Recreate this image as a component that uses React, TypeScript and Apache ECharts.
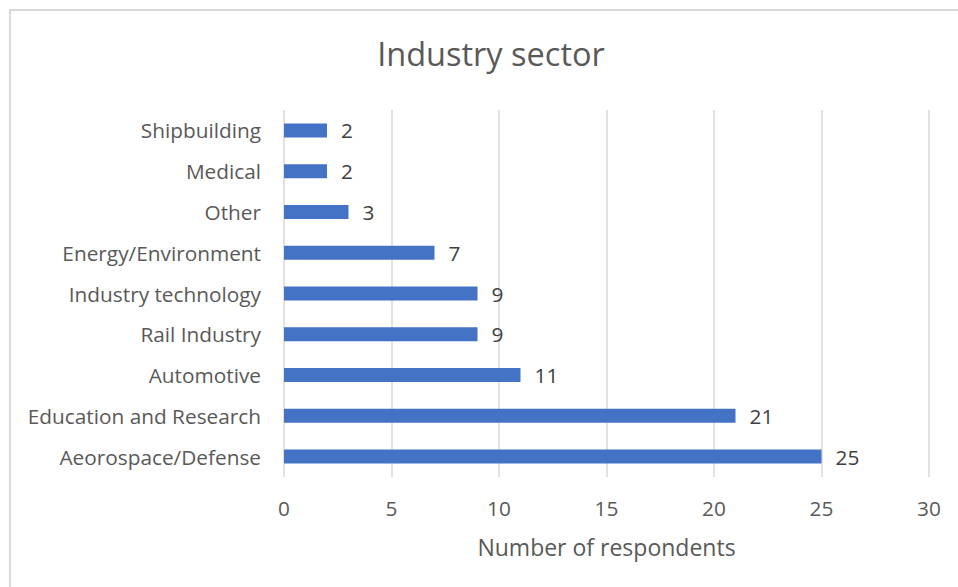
import React, { useEffect, useRef } from "react";
import * as echarts from "echarts";

const categories = [
  "Aeorospace/Defense",
  "Education and Research",
  "Automotive",
  "Rail Industry",
  "Industry technology",
  "Energy/Environment",
  "Other",
  "Medical",
  "Shipbuilding",
];
const respondents = [25, 21, 11, 9, 9, 7, 3, 2, 2];
const titleText = "Industry sector";
const xAxisName = "Number of respondents";

export default function App() {
  const ref = useRef<HTMLDivElement>(null);
  useEffect(() => {
    if (!ref.current) return;
    const chart = echarts.init(ref.current, null, { renderer: "svg" });
    const font = "'Open Sans', Lato, sans-serif";
    chart.setOption({
      animation: false,
      backgroundColor: "#ffffff",
      textStyle: { fontFamily: font },
      title: {
        text: titleText,
        left: 486,
        textAlign: "center",
        top: 32,
        textStyle: { fontFamily: font, fontSize: 32.5, fontWeight: "normal", color: "#595959" },
      },
      graphic: [
        {
          type: "rect",
          shape: { x: 10, y: 10, width: 980, height: 620 },
          style: { fill: "none", stroke: "#d9d9d9", lineWidth: 2 },
          silent: true,
        },
      ],
      grid: { left: 284, right: 29, top: 110, bottom: 110, containLabel: false },
      xAxis: {
        type: "value",
        min: 0,
        max: 30,
        interval: 5,
        name: xAxisName,
        nameLocation: "middle",
        nameGap: 58,
        nameTextStyle: { fontFamily: font, fontSize: 23, color: "#595959" },
        axisLine: { show: false },
        axisTick: { show: false },
        axisLabel: { fontFamily: font, fontSize: 20.8, color: "#595959", margin: 20 },
        splitLine: { show: true, lineStyle: { color: "#d9d9d9", width: 1.5 } },
      },
      yAxis: {
        type: "category",
        data: categories,
        axisLine: { show: false },
        axisTick: { show: false },
        axisLabel: { fontFamily: font, fontSize: 20.8, color: "#595959", margin: 23 },
      },
      series: [
        {
          type: "bar",
          data: respondents,
          barWidth: 14,
          itemStyle: { color: "#4472C4" },
          label: {
            show: true,
            position: "right",
            distance: 14,
            fontFamily: font,
            fontSize: 20.8,
            color: "#404040",
          },
        },
      ],
    });
    return () => chart.dispose();
  }, []);
  return (
    <div
      ref={ref}
      style={{ position: "absolute", left: 0, top: 0, width: 958, height: 587 }}
    />
  );
}
